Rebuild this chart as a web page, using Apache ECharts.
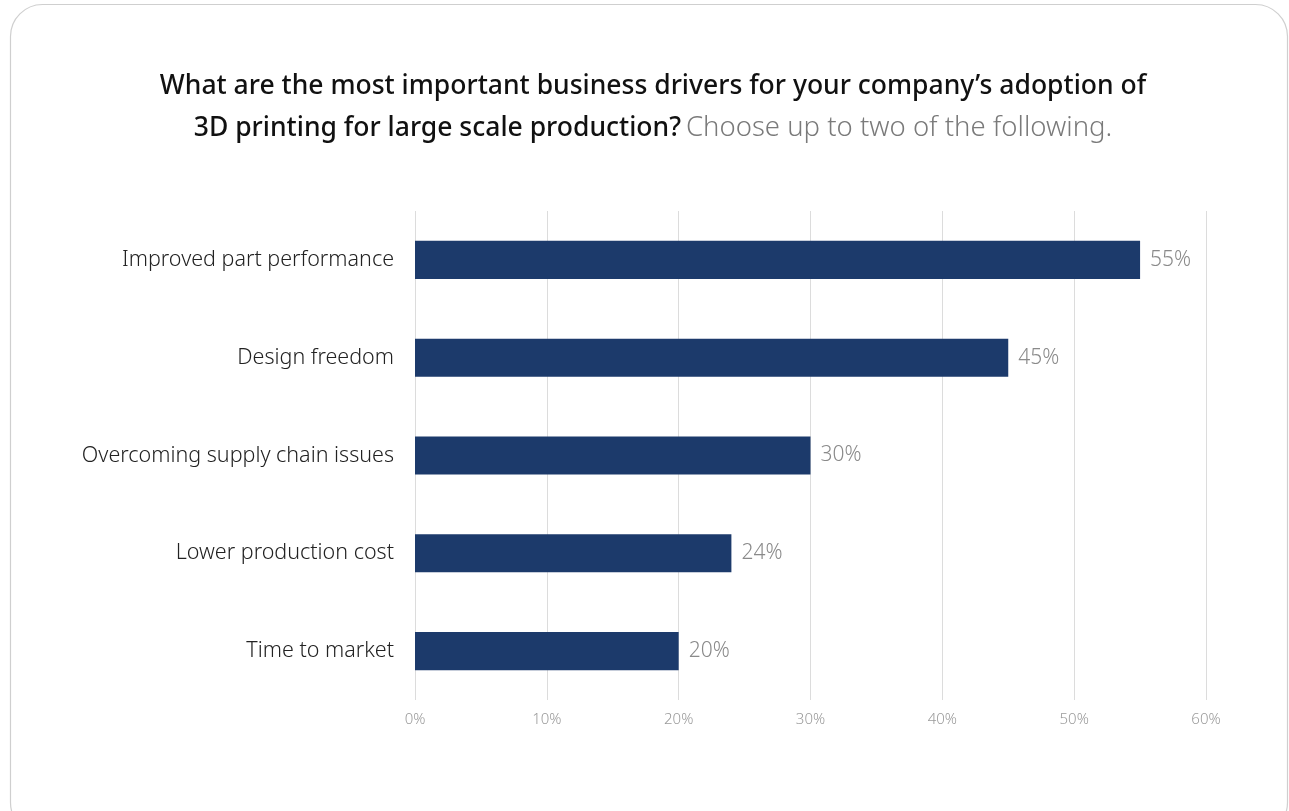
<!DOCTYPE html>
<html>
<head>
<meta charset="utf-8">
<style>
  html, body { margin: 0; padding: 0; background: #ffffff; }
  #chart { width: 1289px; height: 811px; }
</style>
<script src="https://cdn.jsdelivr.net/npm/echarts@6/dist/echarts.min.js"></script>
</head>
<body>
<div id="chart"></div>
<script>
// Survey answers, top to bottom
const categories = [
  'Improved part performance',
  'Design freedom',
  'Overcoming supply chain issues',
  'Lower production cost',
  'Time to market'
];
// Share of respondents (%)
const shares = [55, 45, 30, 24, 20];
// Value-axis ticks (%)
const tickValues = [0, 10, 20, 30, 40, 50, 60];

const FONT = '"Noto Sans", "Open Sans", sans-serif';

const chart = echarts.init(document.getElementById('chart'), null, { renderer: 'canvas' });

chart.setOption({
  backgroundColor: '#ffffff',
  animation: false,
  graphic: [{
    type: 'rect',
    z: -10,
    shape: { x: 10.5, y: 4.5, width: 1277, height: 830, r: 32 },
    style: { fill: '#ffffff', stroke: '#cfcfcf', lineWidth: 1.2 }
  }],
  title: {
    left: 648,
    top: 60,
    textAlign: 'center',
    text: '{b|What are the most important business drivers for your company\u2019s adoption of}\n' +
          '{b|3D printing for large scale production?} {g|Choose up to two of the following.}',
    textStyle: {
      rich: {
        b: { fontFamily: FONT, fontSize: 26.5, fontWeight: 500, color: '#111111', lineHeight: 42 },
        g: { fontFamily: FONT, fontSize: 27.5, fontWeight: 300, color: '#7a7a7a', lineHeight: 42 }
      }
    }
  },
  grid: { left: 415, right: 83, top: 211, bottom: 111, containLabel: false },
  xAxis: {
    type: 'value',
    min: tickValues[0],
    max: tickValues[tickValues.length - 1],
    interval: 10,
    axisLine: { show: false },
    axisTick: { show: false },
    splitLine: { show: true, lineStyle: { color: '#dcdcdc', width: 1 } },
    axisLabel: {
      formatter: '{value}%',
      color: '#9a9a9a',
      fontFamily: FONT,
      fontWeight: 300,
      fontSize: 15,
      margin: 12
    }
  },
  yAxis: {
    type: 'category',
    data: categories,
    inverse: true,
    axisLine: { show: false },
    axisTick: { show: false },
    axisLabel: {
      color: '#222222',
      fontFamily: FONT,
      fontWeight: 300,
      fontSize: 21.5,
      margin: 21
    }
  },
  series: [{
    type: 'bar',
    data: shares,
    barWidth: '39%',
    itemStyle: { color: '#1c3a6b' },
    label: {
      show: true,
      position: 'right',
      distance: 10,
      formatter: '{c}%',
      color: '#8a8a8a',
      fontFamily: FONT,
      fontWeight: 300,
      fontSize: 21
    }
  }]
});
</script>
</body>
</html>
